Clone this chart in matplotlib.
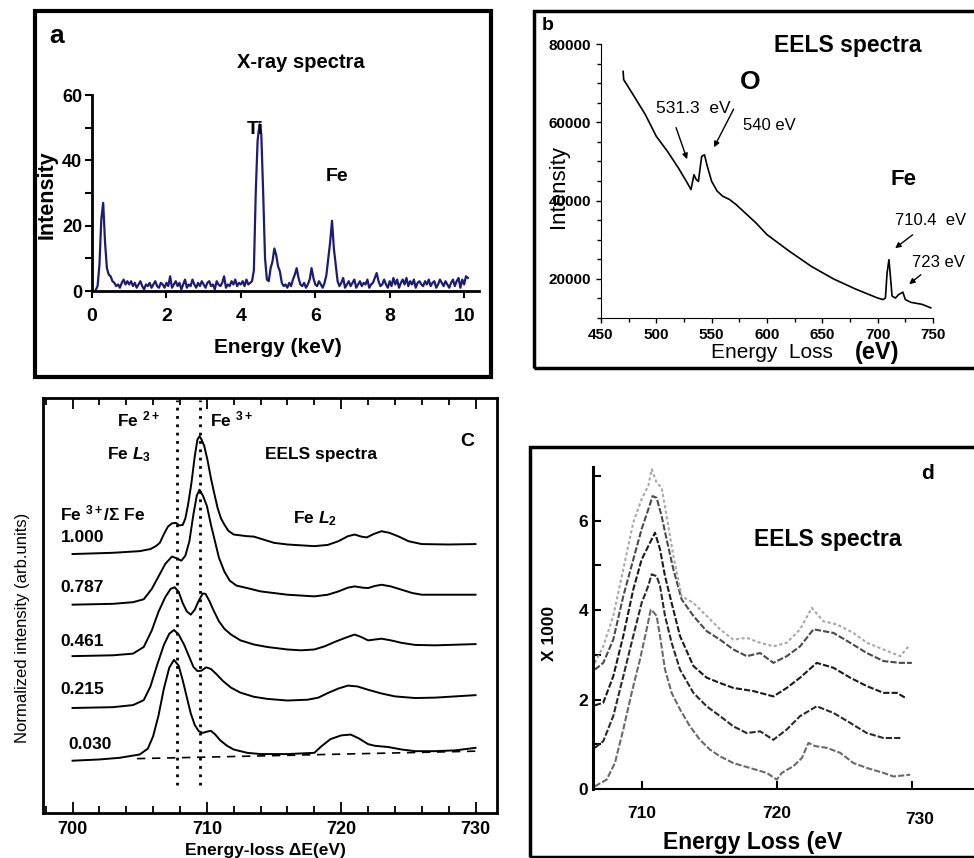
import numpy as np
import matplotlib.pyplot as plt
from matplotlib.patches import Rectangle
from matplotlib.ticker import MultipleLocator

W, H = 974, 858
plt.rcParams['font.family'] = ['Liberation Sans', 'DejaVu Sans']
plt.rcParams['mathtext.fontset'] = 'custom'
plt.rcParams['mathtext.rm'] = 'Liberation Sans:bold'
plt.rcParams['mathtext.it'] = 'Liberation Sans:italic:bold'
plt.rcParams['mathtext.bf'] = 'Liberation Sans:bold'
plt.rcParams['mathtext.default'] = 'rm'

# ---- panel a: X-ray spectrum (keV, counts), 0.05 keV channels from 0.10 to 10.10
xray_E = np.linspace(0.10, 10.10, 201)
xray_I = [0.3, 1.5, 8, 22, 27, 15, 7, 5, 4.5, 3, 2.5, 1.5, 2, 1, 2.5, 3.5, 2, 3,
          2, 3, 1.5, 2.5, 1, 2, 3, 1.5, 0.5, 2, 1.5, 2.5, 1, 2, 3, 1.5, 1, 2.5, 2, 1,
          2.5, 1.5, 4.5, 1, 2, 3, 1.5, 2.5, 0.5, 2, 3.5, 1, 2, 1.5, 3.5, 2, 1, 2.5, 1.5, 3,
          2, 1, 2.5, 3, 1.5, 2, 0.5, 3, 2, 1.5, 2.5, 4.5, 1, 2, 1.5, 3, 2, 3.5, 1.5, 2.5,
          2, 3, 1.5, 3.5, 2, 2.5, 3, 6.3, 30, 46, 51, 48, 30, 10, 3.5, 3, 7, 9, 13, 11,
          7.5, 6, 2.5, 1.5, 2, 1, 2.5, 1.5, 3.5, 5, 7, 4, 2, 1.5, 2.5, 1, 2, 3.5, 7, 4,
          2, 1.5, 3, 2, 1, 2.5, 5, 10, 15, 21.5, 13, 8, 3, 1.5, 2.5, 4, 1, 2, 3, 1.5,
          2.5, 3.5, 1, 2, 3, 1.5, 2.5, 2, 3.5, 1, 2, 2.5, 4, 5.5, 3, 1.5, 2, 3.5, 2, 1,
          3, 1.5, 4, 2, 3.5, 1, 2.5, 3.5, 2, 4, 1.5, 3, 2, 3.5, 1, 2.5, 3, 2, 1.5, 3,
          2, 3.5, 1.5, 2.5, 3, 1, 2, 3.5, 2.5, 1.5, 3, 2, 1, 2.5, 3.5, 1.5, 3, 4, 1, 3.5,
          2, 4.5, 4]

# ---- panel b: EELS survey spectrum
eels_E = [470, 470.5, 480, 490, 500, 510, 520, 528, 531.3, 534, 536, 538, 541, 543.5,
          546, 550, 555, 560, 566, 572, 580, 590, 600, 620, 640, 660, 680, 700, 705,
          707, 708.5, 710.2, 711.5, 713, 716, 719, 722.8, 725, 730, 740, 748]
eels_I = [73000, 70900, 66600, 62000, 56400, 52600, 48300, 44500, 42800, 46600, 45400,
          44900, 51300, 51700, 48800, 44900, 42400, 41100, 40300, 39000, 36900, 34300,
          31300, 27100, 23200, 20000, 17400, 15100, 14700, 15100, 21500, 24900, 20700,
          15600, 15100, 16000, 16600, 14700, 14000, 13500, 12600]

# ---- panel c: Fe L2,3 edges for several Fe3+/sum Fe ratios (arb. units)
c_ratios = ['1.000', '0.787', '0.461', '0.215', '0.030']
c_E1 = [700, 703, 705, 705.8, 706.2, 706.5, 706.8, 707.1, 707.4, 707.7, 707.95, 708.2,
        708.4, 708.6, 708.85, 709.1, 709.3, 709.45, 709.6, 709.8, 710.05, 710.3, 710.55,
        710.8, 711.05, 711.3, 711.6, 712, 712.5, 713, 713.5, 714, 715, 716, 717, 718,
        719, 719.8, 720.5, 721, 721.5, 721.9, 722.4, 723, 723.6, 724.3, 725, 726, 728, 730]
c_I1 = [6.24, 6.27, 6.31, 6.36, 6.43, 6.51, 6.72, 6.9, 6.98, 6.99, 6.93, 6.94, 7.1, 7.43,
        7.95, 8.6, 9.0, 9.08, 9.0, 8.85, 8.5, 8.07, 7.7, 7.35, 7.1, 6.95, 6.8, 6.71, 6.69,
        6.67, 6.66, 6.61, 6.51, 6.47, 6.45, 6.43, 6.46, 6.55, 6.67, 6.71, 6.66, 6.64, 6.72,
        6.79, 6.75, 6.66, 6.55, 6.48, 6.47, 6.48]
c_E2 = [700, 703, 704.5, 705.3, 705.9, 706.4, 706.9, 707.4, 707.8, 708.1, 708.4, 708.7,
        709.0, 709.25, 709.45, 709.7, 710, 710.3, 710.6, 710.9, 711.3, 711.7, 712.2, 713,
        714, 715, 716, 717, 718, 719, 719.8, 720.5, 721, 721.6, 722, 722.5, 723, 723.7,
        724.5, 725.3, 726, 728, 730]
c_I2 = [5.02, 5.04, 5.08, 5.15, 5.4, 5.7, 6.0, 6.18, 6.13, 6.08, 6.2, 6.55, 7.2, 7.65,
        7.79, 7.65, 7.4, 6.95, 6.55, 6.15, 5.82, 5.6, 5.48, 5.42, 5.34, 5.3, 5.26, 5.24,
        5.22, 5.26, 5.34, 5.43, 5.46, 5.43, 5.42, 5.47, 5.50, 5.46, 5.38, 5.3, 5.26, 5.26, 5.26]
c_E3 = [700, 703, 704.5, 705.3, 705.9, 706.4, 706.9, 707.3, 707.6, 707.9, 708.2, 708.5,
        708.8, 709.1, 709.4, 709.7, 709.9, 710.2, 710.5, 710.9, 711.3, 711.8, 712.5, 713.5,
        714.5, 716, 717, 718, 718.8, 719.5, 720.3, 721, 721.5, 722, 722.5, 723, 723.7,
        724.5, 725.5, 727, 730]
c_I3 = [3.78, 3.8, 3.84, 4.0, 4.4, 4.85, 5.2, 5.4, 5.44, 5.33, 5.06, 4.86, 4.78, 4.9,
        5.12, 5.29, 5.28, 5.1, 4.88, 4.62, 4.44, 4.3, 4.16, 4.06, 4.0, 3.94, 3.92, 3.94,
        4.02, 4.12, 4.22, 4.30, 4.24, 4.16, 4.18, 4.20, 4.16, 4.10, 4.05, 4.04, 4.07]
c_E4 = [700, 703, 704.5, 705.3, 705.8, 706.3, 706.8, 707.2, 707.55, 707.9, 708.3, 708.7,
        709.0, 709.3, 709.6, 709.95, 710.3, 710.7, 711.2, 711.8, 712.5, 713.5, 714.5, 716,
        717.5, 718.3, 719, 719.8, 720.5, 721.2, 722, 723, 724, 725.5, 727, 730]
c_I4 = [2.53, 2.55, 2.6, 2.72, 3.05, 3.57, 4.05, 4.32, 4.41, 4.3, 4.06, 3.75, 3.52, 3.42,
        3.43, 3.51, 3.47, 3.35, 3.18, 3.02, 2.9, 2.8, 2.75, 2.71, 2.73, 2.78, 2.89, 3.0,
        3.07, 3.05, 2.97, 2.88, 2.81, 2.77, 2.78, 2.84]
c_E5 = [700, 702, 703.5, 705, 705.6, 706.0, 706.4, 706.8, 707.2, 707.55, 707.9, 708.2,
        708.5, 708.8, 709.1, 709.4, 709.7, 710.0, 710.3, 710.6, 711, 711.5, 712, 713, 714,
        716, 718, 718.5, 719.2, 720, 720.7, 721.3, 722, 722.5, 723.5, 724.5, 725.5, 727,
        728.5, 730]
c_I5 = [1.26, 1.29, 1.33, 1.41, 1.55, 1.85, 2.35, 3.0, 3.5, 3.69, 3.55, 3.2, 2.8, 2.4,
        2.12, 1.97, 1.93, 1.96, 1.98, 1.9, 1.75, 1.62, 1.53, 1.45, 1.42, 1.42, 1.45, 1.6,
        1.78, 1.87, 1.89, 1.8, 1.66, 1.62, 1.59, 1.53, 1.49, 1.49, 1.51, 1.57]
c_base_E = [704.8, 730]
c_base_I = [1.31, 1.49]
c_fe2, c_fe3 = 707.8, 709.5

# ---- panel d: EELS Fe L edges, x1000 counts
d_E1 = [706.54, 707.41, 708.02, 708.64, 709.26, 709.88, 710.37, 710.67, 710.86, 711.11,
        711.36, 711.73, 712.22, 712.84, 713.58, 714.32, 715.06, 715.80, 716.79, 718.02,
        719.26, 720.0, 720.37, 721.23, 721.85, 722.35, 722.84, 723.70, 724.69, 725.68,
        726.67, 727.90, 728.64, 729.88]
d_I1 = [0.06, 0.21, 0.58, 1.33, 2.15, 2.90, 3.57, 4.01, 3.96, 3.87, 3.42, 2.67, 2.15,
        1.78, 1.40, 1.10, 0.88, 0.73, 0.58, 0.47, 0.36, 0.21, 0.36, 0.51, 0.69, 1.03,
        0.96, 0.92, 0.81, 0.58, 0.47, 0.36, 0.28, 0.32]
d_E2 = [706.54, 707.16, 707.90, 708.64, 709.38, 710.0, 710.49, 710.74, 711.11, 711.36,
        711.73, 712.22, 712.84, 713.83, 714.81, 715.80, 716.79, 717.78, 718.77, 719.75,
        720.74, 721.73, 722.96, 724.20, 725.43, 726.67, 727.90, 729.26]
d_I2 = [0.92, 1.07, 1.63, 2.52, 3.42, 4.16, 4.54, 4.80, 4.76, 4.54, 3.87, 3.27, 2.67,
        2.15, 1.85, 1.63, 1.40, 1.25, 1.29, 1.10, 1.33, 1.63, 1.85, 1.70, 1.48, 1.25, 1.14, 1.14]
d_E3 = [706.54, 707.16, 707.90, 708.64, 709.38, 710.0, 710.49, 710.99, 711.36, 711.73,
        712.22, 712.84, 713.83, 714.81, 715.80, 716.79, 718.27, 719.75, 720.74, 721.73,
        722.96, 724.20, 725.43, 726.67, 727.90, 728.89, 729.51]
d_I3 = [1.87, 1.93, 2.52, 3.42, 4.46, 5.13, 5.43, 5.73, 5.36, 4.76, 4.16, 3.42, 2.75,
        2.49, 2.37, 2.26, 2.19, 2.07, 2.26, 2.49, 2.82, 2.71, 2.49, 2.30, 2.15, 2.15, 2.04]
d_E4 = [706.54, 707.16, 707.90, 708.64, 709.38, 710.0, 710.49, 710.81, 711.11, 711.48,
        711.85, 712.35, 712.96, 713.83, 714.81, 715.80, 716.79, 717.78, 718.77, 719.75,
        720.74, 721.73, 722.72, 724.20, 725.43, 726.67, 727.90, 729.14, 730.0]
d_I4 = [2.67, 2.82, 3.34, 4.31, 5.13, 5.81, 6.25, 6.55, 6.51, 6.10, 5.58, 4.91, 4.24,
        3.87, 3.53, 3.34, 3.12, 2.97, 3.04, 2.82, 2.97, 3.19, 3.57, 3.49, 3.27, 3.04,
        2.86, 2.82, 2.82]
d_E5 = [706.54, 707.16, 707.90, 708.64, 709.38, 710.0, 710.49, 710.74, 711.11, 711.48,
        711.85, 712.35, 712.96, 713.83, 714.81, 715.80, 716.79, 717.78, 718.77, 719.75,
        720.74, 721.73, 722.59, 723.46, 724.44, 725.68, 726.67, 727.90, 729.14, 729.75]
d_I5 = [2.82, 3.19, 3.87, 4.91, 5.96, 6.48, 6.78, 7.15, 6.85, 6.74, 6.10, 5.21, 4.31,
        4.16, 3.87, 3.57, 3.34, 3.38, 3.27, 3.19, 3.27, 3.57, 4.05, 3.75, 3.68, 3.49,
        3.27, 3.12, 2.97, 3.19]


def fr(x0, y0, x1, y1):
    return [x0 / W, 1 - y1 / H, (x1 - x0) / W, (y1 - y0) / H]


def box(fig, x0, y0, x1, y1, lw=2.5):
    fig.add_artist(Rectangle((x0 / W, 1 - y1 / H), (x1 - x0) / W, (y1 - y0) / H,
                             transform=fig.transFigure, fill=False, lw=lw, ec='black'))


fig = plt.figure(figsize=(W / 100, H / 100), dpi=100)

# panel borders
box(fig, 35, 11, 491, 377, lw=3)
box(fig, 534, 11, 990, 368)
box(fig, 530, 447, 990, 857)

# ===== a =====
ax = fig.add_axes(fr(92, 95, 479, 291))
ax.plot(xray_E, xray_I, color='#1c1c70', lw=1.6, clip_on=False)
ax.set_xlim(0, 10.4)
ax.set_ylim(0, 60)
for s in ['top', 'right']:
    ax.spines[s].set_visible(False)
ax.spines['left'].set_linewidth(2)
ax.spines['bottom'].set_linewidth(2)
ax.set_xticks([0, 2, 4, 6, 8, 10])
ax.set_yticks([0, 20, 40, 60])
ax.yaxis.set_minor_locator(MultipleLocator(10))
ax.tick_params(which='both', direction='out', width=1.5, length=5, labelsize=14)
ax.tick_params(axis='x', pad=7)
ax.tick_params(axis='y', pad=2, labelsize=13)
for lab in ax.get_xticklabels() + ax.get_yticklabels():
    lab.set_fontweight('bold')
ax.set_xlabel('Energy (keV)', fontweight='bold', fontsize=15)
ax.xaxis.set_label_coords((278 - 92) / 387, -(338 - 291) / 196)
ax.set_ylabel('Intensity', fontweight='bold', fontsize=15.5)
ax.yaxis.set_label_coords((58 - 92) / 387, (291 - 195) / 196)
ax.text(5.62, 70, 'X-ray spectra', fontweight='bold', fontsize=14.5,
        ha='center', va='center')
ax.text(4.38, 49.5, 'Ti', fontweight='bold', fontsize=14, ha='center', va='center')
ax.text(6.59, 35, 'Fe', fontweight='bold', fontsize=14, ha='center', va='center')
fig.text(57 / W, 1 - 36 / H, 'a', fontweight='bold', fontsize=19,
         ha='center', va='center')

# ===== b =====
bx = fig.add_axes(fr(601, 44, 933, 318))
bx.plot(eels_E, eels_I, color='black', lw=1.2)
bx.set_xlim(450, 750)
bx.set_ylim(10000, 80000)
for s in ['top', 'right']:
    bx.spines[s].set_visible(False)
bx.set_xticks(range(450, 751, 50))
bx.set_yticks([20000, 40000, 60000, 80000])
bx.xaxis.set_minor_locator(MultipleLocator(25))
bx.yaxis.set_minor_locator(MultipleLocator(5000))
bx.tick_params(which='both', direction='out', width=1, labelsize=11)
bx.tick_params(which='minor', length=3)
for lab in bx.get_xticklabels() + bx.get_yticklabels():
    lab.set_fontweight('bold')
bx.set_ylabel('Intensity', fontsize=16)
bx.yaxis.set_label_coords((569 - 601) / 332, (318 - 187) / 274)
bx.text(673, 79500, 'EELS spectra', fontweight='bold', fontsize=16.5, ha='center', va='center')
bx.text(585, 70300, 'O', fontweight='bold', fontsize=19, ha='center', va='center')
bx.text(723, 45300, 'Fe', fontweight='bold', fontsize=16, ha='center', va='center')
bx.text(533, 63600, '531.3  eV', fontsize=12.5, ha='center', va='center')
bx.text(578, 59300, '540 eV', fontsize=12, ha='left', va='center')
bx.text(715.6, 35000, '710.4  eV', fontsize=12, ha='left', va='center', clip_on=False)
bx.text(731, 24300, '723 eV', fontsize=12, ha='left', va='center', clip_on=False)
arr = dict(arrowstyle='-|>', color='black', lw=1, mutation_scale=8)
bx.annotate('', xy=(528.6, 49900), xytext=(517, 59300), arrowprops=arr)
bx.annotate('', xy=(551, 53000), xytext=(571, 64000), arrowprops=arr)
bx.annotate('', xy=(713.8, 27400), xytext=(733.6, 31700), arrowprops=arr)
bx.annotate('', xy=(726.5, 18200), xytext=(741, 21500), arrowprops=arr)
fig.text(772 / W, 1 - 352 / H, 'Energy  Loss', fontsize=15, ha='center', va='center')
fig.text(877 / W, 1 - 352 / H, '(eV)', fontweight='bold', fontsize=17, ha='center', va='center')
fig.text(548 / W, 1 - 26 / H, 'b', fontweight='bold', fontsize=14, ha='center', va='center')

# ===== c =====
cx = fig.add_axes(fr(43, 398, 497, 813))
c_E = [c_E1, c_E2, c_E3, c_E4, c_E5]
c_I = [c_I1, c_I2, c_I3, c_I4, c_I5]
for e, i in zip(c_E, c_I):
    cx.plot(e, i, color='black', lw=1.4)
cx.plot(c_base_E, c_base_I, color='black', lw=1.2, ls=(0, (5, 4)))
for xv in (c_fe2, c_fe3):
    cx.plot([xv, xv], [0.68, 9.95], color='black', lw=2, ls=(0, (1, 2)))
cx.set_xlim(697.8, 731.6)
cx.set_ylim(0, 10)
for s in cx.spines.values():
    s.set_linewidth(2)
cx.set_xticks([700, 710, 720, 730])
cx.xaxis.set_minor_locator(MultipleLocator(2))
cx.set_yticks([])
cx.tick_params(which='both', direction='in', top=True, width=1.3)
cx.tick_params(which='major', length=8, pad=6, labelsize=13)
cx.tick_params(which='minor', length=5)
for lab in cx.get_xticklabels():
    lab.set_fontweight('bold')
cx.set_xlabel('Energy-loss ΔE(eV)', fontweight='bold', fontsize=12.5)
cx.xaxis.set_label_coords((265 - 43) / 454, -(843 - 813) / 415)
cx.set_ylabel('Normalized intensity (arb.units)', fontsize=12)
cx.yaxis.set_label_coords((30 - 43) / 454, (813 - 628) / 415)
ct = dict(fontweight='bold', fontsize=12.5, va='center')
cx.text(703.3, 9.48, r'Fe $^{2+}$', **ct)
cx.text(710.2, 9.48, r'Fe $^{3+}$', **ct)
cx.text(702.6, 8.63, r'Fe $\mathit{L}_{3}$', **ct)
cx.text(714.3, 8.63, 'EELS spectra', **ct)
cx.text(729.4, 8.96, 'C', fontsize=14, fontweight='bold', ha='center', va='center')
cx.text(699.1, 7.23, r'Fe $^{3+}$/Σ Fe', **ct)
cx.text(716.4, 7.1, r'Fe $\mathit{L}_{2}$', **ct)
for lab, yv, xv in zip(c_ratios, [6.64, 5.44, 4.14, 2.97, 1.66],
                       [699.1, 699.1, 699.1, 699.1, 699.7]):
    cx.text(xv, yv, lab, **ct)

# ===== d =====
dx = fig.add_axes(fr(593, 467, 974, 789))
d_E = [d_E1, d_E2, d_E3, d_E4, d_E5]
d_I = [d_I1, d_I2, d_I3, d_I4, d_I5]
d_col = ['#6a6a6a', '#2a2a2a', '#1a1a1a', '#4a4a4a', '#a8a8a8']
d_ls = [(0, (3, 1)), (0, (3, 1)), (0, (3, 1)), (0, (3, 1)), (0, (1.5, 1.2))]
for e, i, c, l in zip(d_E, d_I, d_col, d_ls):
    dx.plot(e, i, color=c, lw=1.5, ls=l)
dx.set_xlim(706.4, 734.6)
dx.set_ylim(0, 7.2)
for s in ['top', 'right']:
    dx.spines[s].set_visible(False)
dx.spines['left'].set_linewidth(2.2)
dx.spines['bottom'].set_linewidth(1.5)
dx.set_xticks([710, 720, 730])
dx.set_xticklabels(['710', '720', ''])
dx.set_yticks([0, 2, 4, 6])
dx.yaxis.set_minor_locator(MultipleLocator(1))
dx.tick_params(which='both', direction='in', width=1.5, length=6, labelsize=12.5)
dx.tick_params(axis='x', pad=12)
for lab in dx.get_xticklabels() + dx.get_yticklabels():
    lab.set_fontweight('bold')
dx.text(730.6, -0.69, '730', fontweight='bold', fontsize=12.5, ha='center', va='center')
dx.set_ylabel('X 1000', fontweight='bold', fontsize=12.5)
dx.yaxis.set_label_coords((557 - 593) / 381, (789 - 633) / 322)
dx.text(723.8, 5.57, 'EELS spectra', fontweight='bold', fontsize=16.5, ha='center', va='center')
fig.text(753 / W, 1 - 842 / H, 'Energy Loss (eV', fontweight='bold', fontsize=16.5,
         ha='center', va='center')
fig.text(928 / W, 1 - 474 / H, 'd', fontweight='bold', fontsize=15, ha='center', va='center')

fig.savefig('out.png', dpi=100)
